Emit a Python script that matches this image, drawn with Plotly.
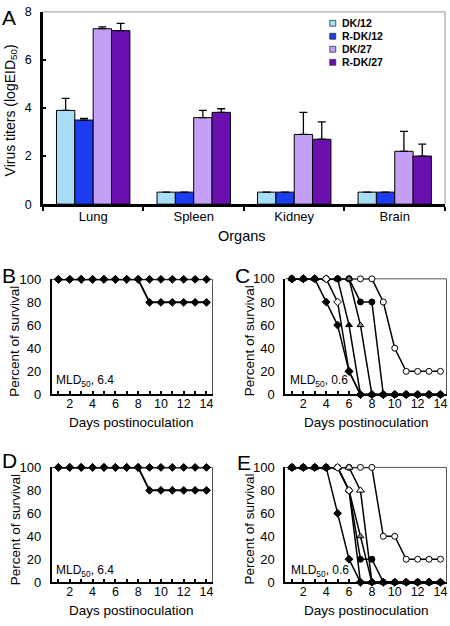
import plotly.graph_objects as go

# ---------------- data ----------------
organs = ["Lung", "Spleen", "Kidney", "Brain"]
series_names = ["DK/12", "R-DK/12", "DK/27", "R-DK/27"]
dk12 = [3.9, 0.5, 0.5, 0.5]
dk12_err = [0.5, 0, 0, 0]
rdk12 = [3.5, 0.5, 0.5, 0.5]
rdk12_err = [0.07, 0, 0, 0]
dk27 = [7.3, 3.6, 2.9, 2.2]
dk27_err = [0.08, 0.3, 0.92, 0.83]
rdk27 = [7.22, 3.82, 2.7, 2.0]
rdk27_err = [0.3, 0.15, 0.72, 0.5]

days = [1, 2, 3, 4, 5, 6, 7, 8, 9, 10, 11, 12, 13, 14]
day_tickvals = [2, 4, 6, 8, 10, 12, 14]
day_ticktext = ["2", "4", "6", "8", "10", "12", "14"]
survival_ticks = [0, 20, 40, 60, 80, 100]
titer_ticks = [0, 2, 4, 6, 8]

b_s1 = [100, 100, 100, 100, 100, 100, 100, 100, 100, 100, 100, 100, 100, 100]
b_s2 = [100, 100, 100, 100, 100, 100, 100, 100, 80, 80, 80, 80, 80, 80]
d_s1 = [100, 100, 100, 100, 100, 100, 100, 100, 100, 100, 100, 100, 100, 100]
d_s2 = [100, 100, 100, 100, 100, 100, 100, 100, 80, 80, 80, 80, 80, 80]

c_fd = [100, 100, 100, 80, 60, 20, 0, 0, 0, 0, 0, 0, 0, 0]
c_od = [100, 100, 100, 100, 80, 20, 0, 0, 0, 0, 0, 0, 0, 0]
c_ft = [100, 100, 100, 100, 100, 60, 0, 0, 0, 0, 0, 0, 0, 0]
c_gt = [100, 100, 100, 100, 100, 100, 60, 0, 0, 0, 0, 0, 0, 0]
c_fc = [100, 100, 100, 100, 100, 100, 80, 80, 0, 0, 0, 0, 0, 0]
c_oc = [100, 100, 100, 100, 100, 100, 100, 100, 80, 40, 20, 20, 20, 20]

e_fd = [100, 100, 100, 100, 60, 20, 0, 0, 0, 0, 0, 0, 0, 0]
e_od = [100, 100, 100, 100, 100, 80, 0, 0, 0, 0, 0, 0, 0, 0]
e_fc = [100, 100, 100, 100, 100, 80, 20, 20, 0, 0, 0, 0, 0, 0]
e_gt = [100, 100, 100, 100, 100, 80, 40, 0, 0, 0, 0, 0, 0, 0]
e_ot = [100, 100, 100, 100, 100, 100, 80, 0, 0, 0, 0, 0, 0, 0]
e_oc = [100, 100, 100, 100, 100, 100, 100, 100, 40, 40, 20, 20, 20, 20]

mld_B, mld_C, mld_D, mld_E = "6.4", "0.6", "6.4", "0.6"

# ---------------- styling ----------------
W, H = 450, 626
FONT = "Arial, Liberation Sans, sans-serif"
bar_colors = ["#a8def5", "#1c3cf0", "#c3a0f5", "#6a10b0"]


def fx(p):
    return p / W


def fy(p):
    return 1 - p / H


fig = go.Figure()

bar_vals = [dk12, rdk12, dk27, rdk27]
bar_errs = [dk12_err, rdk12_err, dk27_err, rdk27_err]
for name, vals, errs, col in zip(series_names, bar_vals, bar_errs, bar_colors):
    fig.add_trace(go.Bar(
        x=organs, y=vals, name=name, xaxis="x", yaxis="y", showlegend=False,
        marker=dict(color=col, line=dict(color="black", width=1)),
        error_y=dict(type="data", symmetric=False, array=errs,
                     arrayminus=[0] * len(errs), color="black",
                     thickness=1.3, width=4),
    ))

FD = dict(symbol="diamond", size=6, color="black", line=dict(color="black", width=1))
OD = dict(symbol="diamond", size=6, color="white", line=dict(color="black", width=1))
FT = dict(symbol="triangle-up", size=6, color="black", line=dict(color="black", width=1))
GT = dict(symbol="triangle-up", size=6, color="#888888", line=dict(color="black", width=1))
OT = dict(symbol="triangle-up", size=7, color="white", line=dict(color="black", width=1))
FC = dict(symbol="circle", size=6, color="black", line=dict(color="black", width=1))
OC = dict(symbol="circle", size=6, color="white", line=dict(color="black", width=1))


def surv(ax, ys, mk, lw=1.5):
    fig.add_trace(go.Scatter(
        x=days, y=ys, mode="lines+markers", xaxis="x" + ax, yaxis="y" + ax,
        line=dict(color="black", width=lw), marker=mk, cliponaxis=False,
        showlegend=False))


surv("2", b_s2, FD, 2)
surv("2", b_s1, FD, 2)
surv("4", d_s2, FD, 2)
surv("4", d_s1, FD, 2)

for ys, mk in [(c_oc, OC), (c_fc, FC), (c_gt, GT), (c_ft, FT), (c_od, OD), (c_fd, FD)]:
    surv("3", ys, mk)
for ys, mk in [(e_oc, OC), (e_ot, OT), (e_gt, GT), (e_fc, FC), (e_od, OD), (e_fd, FD)]:
    surv("5", ys, mk)

layout = dict(
    width=W, height=H, margin=dict(l=0, r=0, t=0, b=0),
    paper_bgcolor="white", plot_bgcolor="white",
    font=dict(family=FONT, color="black", size=12),
    barmode="group", bargap=0.27, bargroupgap=0,
    showlegend=False,
)

layout["xaxis"] = dict(
    domain=[fx(43), fx(446)], anchor="y", type="category", range=[-0.5, 3.5],
    showline=True, linewidth=2.5, linecolor="black", tickson="boundaries",
    ticks="outside", ticklen=4, tickwidth=2, tickcolor="black",
    tickfont=dict(size=13), ticklabelstandoff=-2, showgrid=False, zeroline=False,
)
layout["yaxis"] = dict(
    domain=[fy(202), fy(5)], anchor="x", range=[0, 8], tickvals=titer_ticks,
    showline=True, linewidth=2.5, linecolor="black", ticks="inside", ticklen=3,
    tickwidth=1.5, tickcolor="black", tickfont=dict(size=12.5), ticklabelstandoff=6,
    showgrid=False, zeroline=False,
)

panels = {
    "2": ([52, 213], [279, 397]),
    "3": ([286, 447.5], [278.5, 397]),
    "4": ([52, 213], [471.7, 589.3]),
    "5": ([286, 447.5], [471.7, 589.3]),
}
for ax, (xd, yd) in panels.items():
    layout["xaxis" + ax] = dict(
        domain=[fx(xd[0]), fx(xd[1])], anchor="y" + ax, range=[0.43, 14.53],
        tickmode="array", tickvals=day_tickvals, ticktext=day_ticktext,
        showline=True, linewidth=2, linecolor="black", ticks="inside", ticklen=3,
        tickwidth=1.5, tickcolor="black", tickfont=dict(size=12.5),
        minor=dict(tickmode="array", tickvals=days, ticks="inside", ticklen=3,
                   tickwidth=1.5, tickcolor="black", showgrid=False),
        ticklabeloverflow="allow", ticklabelstandoff=-3,
        showgrid=False, zeroline=False,
    )
    layout["yaxis" + ax] = dict(
        domain=[fy(yd[1]), fy(yd[0])], anchor="x" + ax, range=[0, 100],
        tickvals=survival_ticks,
        showline=True, linewidth=2, linecolor="black", ticks="",
        tickfont=dict(size=13), ticklabelstandoff=6,
        showgrid=False, zeroline=False,
    )

fig.update_layout(**layout)

# top/right frame lines
shapes = []
for ax, col in [("", "#8c9a9a"), ("2", "#555555"), ("3", "#555555"), ("4", "#555555"), ("5", "#555555")]:
    xr = "x" + ax + " domain" if ax else "x domain"
    yr = "y" + ax + " domain" if ax else "y domain"
    shapes.append(dict(type="line", xref=xr, yref=yr, x0=0, x1=1, y0=1, y1=1,
                       line=dict(color=col, width=1), layer="below"))
    shapes.append(dict(type="line", xref=xr, yref=yr, x0=1, x1=1, y0=0, y1=1,
                       line=dict(color=col, width=1), layer="below"))

# manual legend
leg_rows = [16.7, 30.0, 43.3, 56.7]
for name, col, yy in zip(series_names, bar_colors, leg_rows):
    shapes.append(dict(type="rect", xref="paper", yref="paper",
                       x0=fx(330.5), x1=fx(336.5), y0=fy(yy + 3), y1=fy(yy - 3),
                       fillcolor=col, line=dict(color="#333333", width=0.8)))

annotations = []
for name, yy in zip(series_names, leg_rows):
    annotations.append(dict(text="<b>" + name + "</b>", xref="paper", yref="paper",
                            x=fx(341), y=fy(yy), xanchor="left", yanchor="middle",
                            showarrow=False, font=dict(size=10.5)))


def ann(text, x, y, size, xanchor="center", angle=0):
    annotations.append(dict(text=text, xref="paper", yref="paper", x=fx(x), y=fy(y),
                            xanchor=xanchor, yanchor="middle", showarrow=False,
                            textangle=angle, font=dict(size=size)))


# panel letters
ann("A", 0, 11, 21, "left")
ann("B", 0, 275, 21, "left")
ann("C", 234, 275, 21, "left")
ann("D", 0, 465, 21, "left")
ann("E", 236, 467, 21, "left")

# axis titles
ann("Virus titers (logEID<sub>50</sub>)", 11, 106, 14, angle=-90)
ann("Organs", 243, 235, 14.5)
for x0, y0 in [(15, 342), (250, 342), (15, 535), (250, 535)]:
    ann("Percent of survival", x0, y0, 13.5, angle=-90)
for x0, y0 in [(132, 426), (367, 426), (132, 618), (367, 618)]:
    ann("Days postinoculation", x0, y0, 13.5)

# MLD50 notes
ann("MLD<sub>50</sub>, " + mld_B, 54.5, 383, 12, "left")
ann("MLD<sub>50</sub>, " + mld_C, 288.5, 383, 12, "left")
ann("MLD<sub>50</sub>, " + mld_D, 54.5, 578, 12, "left")
ann("MLD<sub>50</sub>, " + mld_E, 289.5, 578, 12, "left")

fig.update_layout(shapes=shapes, annotations=annotations)
fig.write_html(
    "out.html",
    config={"displayModeBar": False},
    post_script="document.body.style.margin='0';document.body.style.padding='0';",
)
